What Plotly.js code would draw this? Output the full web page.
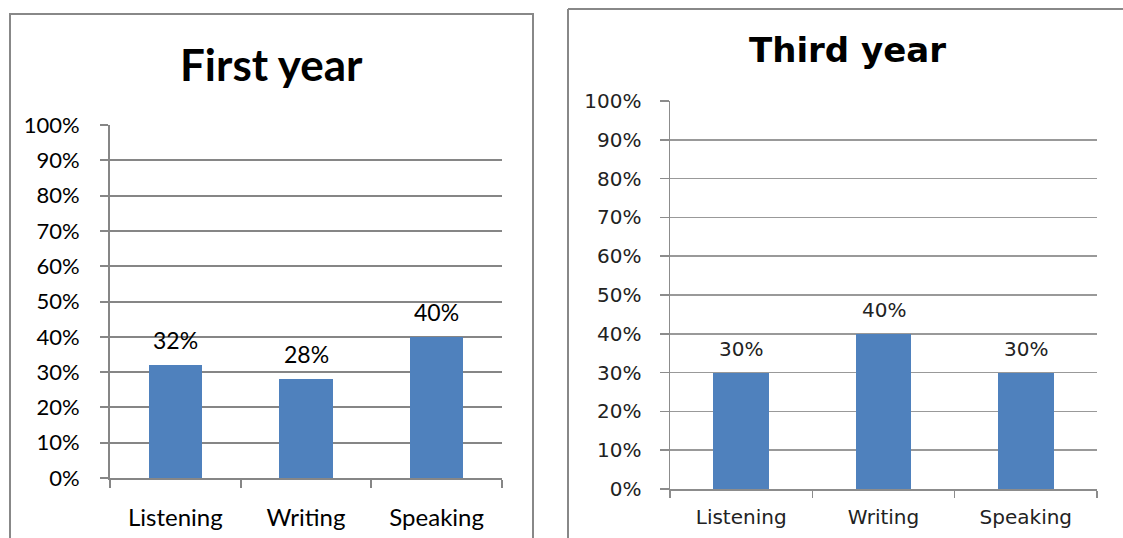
<!DOCTYPE html>
<html>
<head>
<meta charset="utf-8">
<script src="https://cdn.plot.ly/plotly-3.0.1.min.js"></script>
<style>html,body{margin:0;padding:0;background:#fff;}#chart{width:1123px;height:538px;}</style>
</head>
<body>
<div id="chart"></div>
<script>
const categories = ["Listening", "Writing", "Speaking"];
const firstYear = [0.32, 0.28, 0.40];
const thirdYear = [0.30, 0.40, 0.30];
const titles = ["First year", "Third year"];

const W = 1123, H = 538;
const px = v => v / W;
const py = v => 1 - v / H;

const barColor = "#4F81BD";
const leftFont = "Lato, 'Open Sans', sans-serif";
const rightFont = "'DejaVu Sans', Verdana, sans-serif";

const traces = [
  {type: "bar", x: categories, y: firstYear, xaxis: "x", yaxis: "y",
   marker: {color: barColor}, width: 0.41, hoverinfo: "none"},
  {type: "bar", x: categories, y: thirdYear, xaxis: "x2", yaxis: "y2",
   marker: {color: barColor}, width: 0.39, hoverinfo: "none"}
];

const annotations = [];
categories.forEach((c, i) => {
  annotations.push({x: c, y: firstYear[i], xref: "x", yref: "y", text: Math.round(firstYear[i] * 100) + "%",
    showarrow: false, yanchor: "bottom", yshift: 9, font: {family: leftFont, size: 23, color: "#000"}});
  annotations.push({x: c, y: thirdYear[i], xref: "x2", yref: "y2", text: Math.round(thirdYear[i] * 100) + "%",
    showarrow: false, yanchor: "bottom", yshift: 10, font: {family: rightFont, size: 20, color: "#222"}});
});
annotations.push({x: px(271), y: py(64), xref: "paper", yref: "paper", text: "<b>" + titles[0] + "</b>",
  showarrow: false, xanchor: "center", yanchor: "middle", font: {family: leftFont, size: 44, color: "#000"}});
annotations.push({x: px(847), y: py(50), xref: "paper", yref: "paper", text: "<b>" + titles[1] + "</b>",
  showarrow: false, xanchor: "center", yanchor: "middle", font: {family: rightFont, size: 34, color: "#000"}});

const yCommon = {range: [0, 1], dtick: 0.1, tick0: 0, tickformat: ".0%", showgrid: true,
  zeroline: false, showline: true, ticks: "outside", fixedrange: true};
const xCommon = {type: "category", showgrid: false, showline: true, ticks: "outside",
  tickson: "boundaries", fixedrange: true};

const layout = {
  width: W, height: H,
  margin: {l: 0, r: 0, t: 0, b: 0},
  paper_bgcolor: "#fff", plot_bgcolor: "#fff",
  showlegend: false,
  bargap: 0,
  xaxis: Object.assign({}, xCommon, {domain: [px(110), px(502)], anchor: "y",
    linecolor: "#868686", linewidth: 2, tickcolor: "#868686", tickwidth: 2, ticklen: 8,
    ticklabelstandoff: 17, tickfont: {family: leftFont, size: 24, color: "#000"}}),
  yaxis: Object.assign({}, yCommon, {domain: [py(478), py(125)], anchor: "x",
    linecolor: "#868686", linewidth: 2, gridcolor: "#868686", gridwidth: 2,
    tickcolor: "#868686", tickwidth: 2, ticklen: 8, ticklabelstandoff: 16,
    tickfont: {family: leftFont, size: 22, color: "#000"}}),
  xaxis2: Object.assign({}, xCommon, {domain: [px(670), px(1097)], anchor: "y2",
    linecolor: "#8c8c8c", linewidth: 1.5, tickcolor: "#8c8c8c", tickwidth: 1.5, ticklen: 7,
    ticklabelstandoff: 9, tickfont: {family: rightFont, size: 20, color: "#222"}}),
  yaxis2: Object.assign({}, yCommon, {domain: [py(489), py(101)], anchor: "x2",
    linecolor: "#8c8c8c", linewidth: 1.5, gridcolor: "#999", gridwidth: 1.5,
    tickcolor: "#8c8c8c", tickwidth: 1.5, ticklen: 9, ticklabelstandoff: 14,
    tickfont: {family: rightFont, size: 20, color: "#222"}}),
  annotations: annotations,
  shapes: [
    {type: "rect", xref: "paper", yref: "paper", x0: px(10), x1: px(533), y0: py(560), y1: py(14),
     line: {color: "#888", width: 2}, fillcolor: "rgba(0,0,0,0)"},
    {type: "line", xref: "paper", yref: "paper", x0: px(568), x1: px(568), y0: py(560), y1: py(9),
     line: {color: "#888", width: 2}},
    {type: "line", xref: "paper", yref: "paper", x0: px(568), x1: px(1123), y0: py(9), y1: py(9),
     line: {color: "#888", width: 2}}
  ]
};

Plotly.newPlot("chart", traces, layout, {staticPlot: true, displayModeBar: false});
</script>
</body>
</html>
